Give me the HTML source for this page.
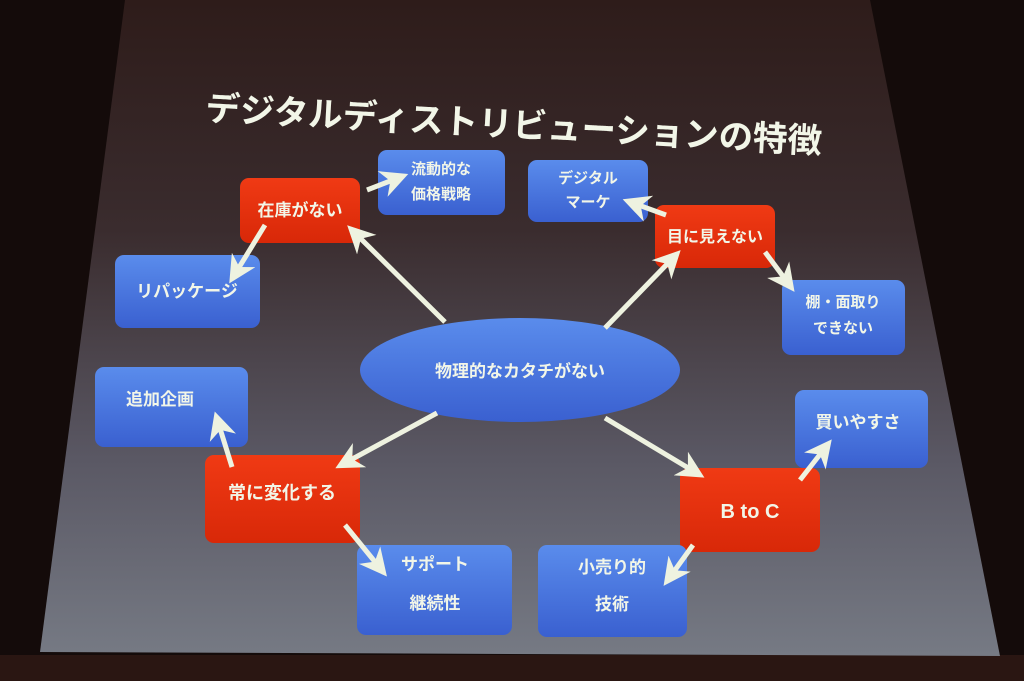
<!DOCTYPE html>
<html><head><meta charset="utf-8"><style>
html,body{margin:0;padding:0;background:#120a09;}
svg{display:block}
text{font-family:"Liberation Sans","Noto Sans CJK JP",sans-serif;font-weight:bold;fill:#f2f6e8;}
</style></head><body>
<svg width="1024" height="681" viewBox="0 0 1024 681" xmlns="http://www.w3.org/2000/svg">
<defs>
<linearGradient id="scr" x1="0" y1="0" x2="0" y2="1">
<stop offset="0" stop-color="#2e1c1a"/>
<stop offset="0.35" stop-color="#3a2c2e"/>
<stop offset="0.7" stop-color="#5a5864"/>
<stop offset="1" stop-color="#767a84"/>
</linearGradient>
<linearGradient id="bl" x1="0" y1="0" x2="0" y2="1">
<stop offset="0" stop-color="#5a8cec"/><stop offset="1" stop-color="#3a60d0"/>
</linearGradient>
<linearGradient id="rd" x1="0" y1="0" x2="0" y2="1">
<stop offset="0" stop-color="#f03a14"/><stop offset="1" stop-color="#d82808"/>
</linearGradient>
<marker id="ah" viewBox="0 0 10 10" refX="6" refY="5" markerWidth="5.5" markerHeight="5.5" orient="auto">
<path d="M0,0 L10,5 L0,10 L3,5 z" fill="#eef2e0"/>
</marker>
</defs>
<rect width="1024" height="681" fill="#140b0a"/>
<rect x="0" y="655" width="1024" height="26" fill="#2a1612"/>
<polygon points="125,0 870,0 1000,656 40,652" fill="url(#scr)"/>
<text x="205" y="120" font-size="34.5" transform="rotate(3.1 205 120)">デジタルディストリビューションの特徴</text>

<ellipse cx="520" cy="370" rx="160" ry="52" fill="url(#bl)"/>
<text x="520" y="377" font-size="17" text-anchor="middle">物理的なカタチがない</text>

<g>
<rect x="240" y="178" width="120" height="65" rx="9" fill="url(#rd)"/>
<text x="300" y="216" font-size="17" text-anchor="middle">在庫がない</text>
<rect x="655" y="205" width="120" height="63" rx="9" fill="url(#rd)"/>
<text x="715" y="242" font-size="16" text-anchor="middle">目に見えない</text>
<rect x="205" y="455" width="155" height="88" rx="9" fill="url(#rd)"/>
<text x="282" y="499" font-size="18" text-anchor="middle">常に変化する</text>
<rect x="680" y="468" width="140" height="84" rx="9" fill="url(#rd)"/>
<text x="750" y="518" font-size="20" text-anchor="middle">B to C</text>
</g>
<g>
<rect x="378" y="150" width="127" height="65" rx="9" fill="url(#bl)"/>
<text x="441" y="174" font-size="15" text-anchor="middle">流動的な</text>
<text x="441" y="199" font-size="15" text-anchor="middle">価格戦略</text>
<rect x="528" y="160" width="120" height="62" rx="9" fill="url(#bl)"/>
<text x="588" y="183" font-size="15" text-anchor="middle">デジタル</text>
<text x="588" y="207" font-size="15" text-anchor="middle">マーケ</text>
<rect x="115" y="255" width="145" height="73" rx="9" fill="url(#bl)"/>
<text x="187" y="297" font-size="17" text-anchor="middle">リパッケージ</text>
<rect x="782" y="280" width="123" height="75" rx="9" fill="url(#bl)"/>
<text x="843" y="307" font-size="15" text-anchor="middle">棚・面取り</text>
<text x="843" y="333" font-size="15" text-anchor="middle">できない</text>
<rect x="95" y="367" width="153" height="80" rx="9" fill="url(#bl)"/>
<text x="160" y="405" font-size="17" text-anchor="middle">追加企画</text>
<rect x="795" y="390" width="133" height="78" rx="9" fill="url(#bl)"/>
<text x="858" y="428" font-size="17" text-anchor="middle">買いやすさ</text>
<rect x="357" y="545" width="155" height="90" rx="9" fill="url(#bl)"/>
<text x="435" y="570" font-size="17" text-anchor="middle">サポート</text>
<text x="435" y="609" font-size="17" text-anchor="middle">継続性</text>
<rect x="538" y="545" width="149" height="92" rx="9" fill="url(#bl)"/>
<text x="612" y="573" font-size="17" text-anchor="middle">小売り的</text>
<text x="612" y="610" font-size="17" text-anchor="middle">技術</text>
</g>

<g stroke="#eef2e0" stroke-width="5" marker-end="url(#ah)" fill="none">
<line x1="445" y1="322" x2="355" y2="233"/>
<line x1="605" y1="328" x2="673" y2="258"/>
<line x1="437" y1="413" x2="345" y2="463"/>
<line x1="605" y1="418" x2="695" y2="472"/>
<line x1="265" y1="225" x2="235" y2="274"/>
<line x1="367" y1="190" x2="398" y2="178"/>
<line x1="666" y1="215" x2="633" y2="203"/>
<line x1="765" y1="252" x2="788" y2="283"/>
<line x1="232" y1="467" x2="218" y2="422"/>
<line x1="345" y1="525" x2="380" y2="568"/>
<line x1="800" y1="480" x2="825" y2="448"/>
<line x1="693" y1="545" x2="670" y2="577"/>
</g>
</svg>
</body></html>
